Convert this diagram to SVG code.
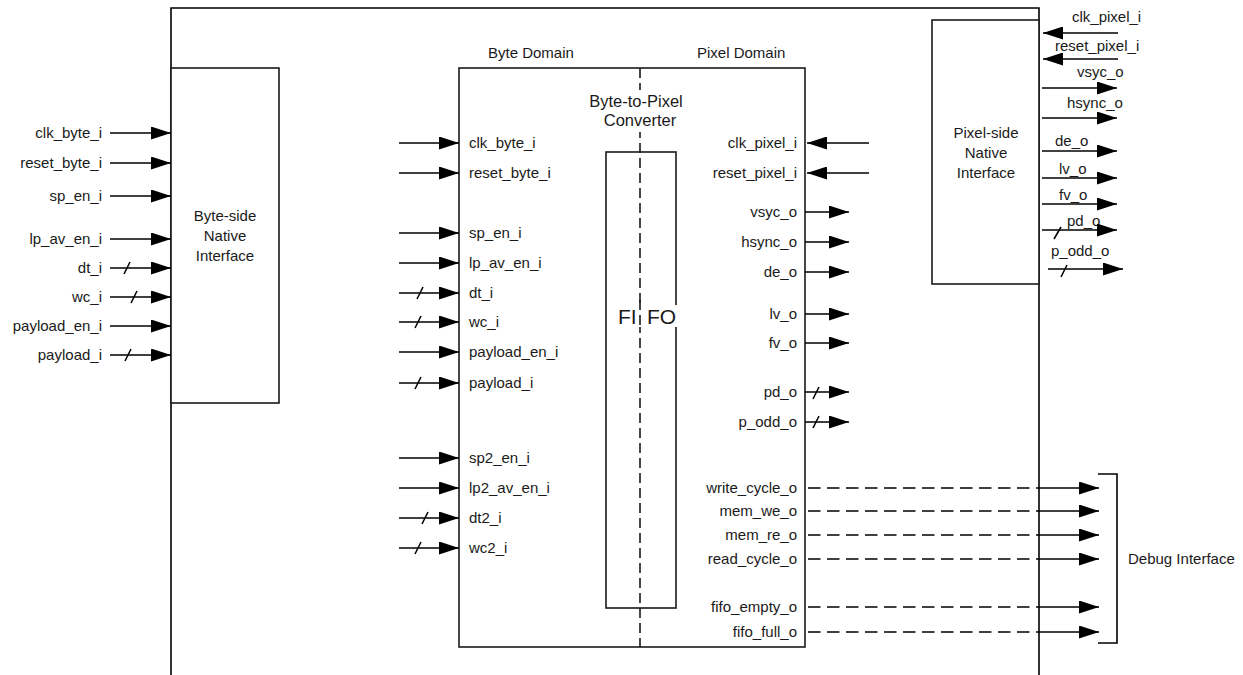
<svg xmlns="http://www.w3.org/2000/svg" width="1243" height="675" viewBox="0 0 1243 675">
<style>
text{font-family:"Liberation Sans",Arial,sans-serif;font-size:15px;fill:#1a1a1a}
.box{fill:#fff;stroke:#1a1a1a;stroke-width:1.6}
.ln{stroke:#000;stroke-width:1.6;fill:none}
.dash{stroke:#000;stroke-width:1.6;fill:none;stroke-dasharray:12.5 6.5}
.vd{stroke:#1a1a1a;stroke-width:1.6;fill:none;stroke-dasharray:10 5}
.a{marker-end:url(#arr)}
.r{text-anchor:end}
.m{text-anchor:middle}
.title{font-size:16.5px}
.fifo{font-size:21px}
</style>
<defs>
<marker id="arr" viewBox="0 0 20 13" refX="20" refY="6.5" markerWidth="20" markerHeight="13" markerUnits="userSpaceOnUse" orient="auto">
<path d="M0,0 L20,6.5 L0,13 z" fill="#000"/>
</marker>
</defs>

<g id="outer">
<path class="ln" d="M171,675 V8 H1039 V675"/>
</g>

<g id="byte-side">
<rect class="box" x="171" y="68" width="108" height="335"/>
<text class="m" x="225" y="221">Byte-side</text>
<text class="m" x="225" y="241">Native</text>
<text class="m" x="225" y="261">Interface</text>
</g>

<g id="pixel-side">
<rect class="box" x="932" y="20" width="107" height="264"/>
<text class="m" x="986" y="138">Pixel-side</text>
<text class="m" x="986" y="158">Native</text>
<text class="m" x="986" y="178">Interface</text>
</g>

<g id="converter">
<rect class="box" x="459" y="68" width="346" height="579"/>
<rect class="box" x="606" y="152" width="70" height="456"/>
<line class="vd" x1="640" y1="68" x2="640" y2="647"/>
<text x="488" y="58">Byte Domain</text>
<text x="697" y="58">Pixel Domain</text>
<rect x="582" y="90" width="106" height="42" fill="#fff"/>
<text class="m title" x="636" y="107">Byte-to-Pixel</text>
<text class="m title" x="640" y="126">Converter</text>
<rect x="616" y="305" width="62" height="22" fill="#fff"/>
<text x="618" y="324" class="fifo">FI</text>
<text x="647" y="324" class="fifo">FO</text>
<line class="vd" x1="640" y1="300" x2="640" y2="330"/>

<text x="469" y="148">clk_byte_i</text>
<text x="469" y="178">reset_byte_i</text>
<text x="469" y="238">sp_en_i</text>
<text x="469" y="268">lp_av_en_i</text>
<text x="469" y="298">dt_i</text>
<text x="469" y="327">wc_i</text>
<text x="469" y="357">payload_en_i</text>
<text x="469" y="388">payload_i</text>
<text x="469" y="463">sp2_en_i</text>
<text x="469" y="493">lp2_av_en_i</text>
<text x="469" y="523">dt2_i</text>
<text x="469" y="553">wc2_i</text>

<text class="r" x="797" y="148">clk_pixel_i</text>
<text class="r" x="797" y="178">reset_pixel_i</text>
<text class="r" x="797" y="217">vsyc_o</text>
<text class="r" x="797" y="247">hsync_o</text>
<text class="r" x="797" y="277">de_o</text>
<text class="r" x="797" y="319">lv_o</text>
<text class="r" x="797" y="348">fv_o</text>
<text class="r" x="797" y="397">pd_o</text>
<text class="r" x="797" y="427">p_odd_o</text>
<text class="r" x="797" y="493">write_cycle_o</text>
<text class="r" x="797" y="516">mem_we_o</text>
<text class="r" x="797" y="540">mem_re_o</text>
<text class="r" x="797" y="564">read_cycle_o</text>
<text class="r" x="797" y="612">fifo_empty_o</text>
<text class="r" x="797" y="637">fifo_full_o</text>
</g>

<g id="debug-interface">
<path class="ln" d="M1098,474 H1117 V643 H1098"/>
<text x="1128" y="564">Debug Interface</text>
</g>

<g id="left-labels">
<text class="r" x="102" y="138">clk_byte_i</text>
<text class="r" x="102" y="168">reset_byte_i</text>
<text class="r" x="102" y="201">sp_en_i</text>
<text class="r" x="102" y="244">lp_av_en_i</text>
<text class="r" x="102" y="273">dt_i</text>
<text class="r" x="102" y="302">wc_i</text>
<text class="r" x="102" y="331">payload_en_i</text>
<text class="r" x="102" y="360">payload_i</text>
</g>

<g id="right-labels">
<text x="1072" y="22">clk_pixel_i</text>
<text x="1055" y="51">reset_pixel_i</text>
<text x="1077" y="77">vsyc_o</text>
<text x="1067" y="108">hsync_o</text>
<text x="1055" y="146">de_o</text>
<text x="1059" y="174">lv_o</text>
<text x="1059" y="200">fv_o</text>
<text x="1067" y="226">pd_o</text>
<text x="1051" y="256">p_odd_o</text>
</g>

<g id="connectors">
<!-- byte-side inputs -->
<line class="ln a" x1="110" y1="133" x2="171" y2="133"/>
<line class="ln a" x1="110" y1="163" x2="171" y2="163"/>
<line class="ln a" x1="110" y1="196" x2="171" y2="196"/>
<line class="ln a" x1="110" y1="239" x2="171" y2="239"/>
<line class="ln a" x1="110" y1="268" x2="171" y2="268"/>
<line class="ln a" x1="110" y1="297" x2="171" y2="297"/>
<line class="ln a" x1="110" y1="326" x2="171" y2="326"/>
<line class="ln a" x1="110" y1="355" x2="171" y2="355"/>
<line class="ln" x1="124" y1="274" x2="130" y2="262"/>
<line class="ln" x1="131" y1="303" x2="137" y2="291"/>
<line class="ln" x1="125" y1="361" x2="131" y2="349"/>

<!-- converter inputs -->
<line class="ln a" x1="399" y1="143" x2="459" y2="143"/>
<line class="ln a" x1="399" y1="173" x2="459" y2="173"/>
<line class="ln a" x1="399" y1="233" x2="459" y2="233"/>
<line class="ln a" x1="399" y1="263" x2="459" y2="263"/>
<line class="ln a" x1="399" y1="293" x2="459" y2="293"/>
<line class="ln a" x1="399" y1="322" x2="459" y2="322"/>
<line class="ln a" x1="399" y1="352" x2="459" y2="352"/>
<line class="ln a" x1="399" y1="383" x2="459" y2="383"/>
<line class="ln a" x1="399" y1="458" x2="459" y2="458"/>
<line class="ln a" x1="399" y1="488" x2="459" y2="488"/>
<line class="ln a" x1="399" y1="518" x2="459" y2="518"/>
<line class="ln a" x1="399" y1="548" x2="459" y2="548"/>
<line class="ln" x1="417" y1="299" x2="423" y2="287"/>
<line class="ln" x1="415" y1="328" x2="421" y2="316"/>
<line class="ln" x1="415" y1="389" x2="421" y2="377"/>
<line class="ln" x1="422" y1="524" x2="428" y2="512"/>
<line class="ln" x1="415" y1="554" x2="421" y2="542"/>

<!-- converter pixel inputs -->
<line class="ln a" x1="869" y1="143" x2="807" y2="143"/>
<line class="ln a" x1="869" y1="173" x2="807" y2="173"/>

<!-- converter outputs -->
<line class="ln a" x1="805" y1="212" x2="849" y2="212"/>
<line class="ln a" x1="805" y1="242" x2="849" y2="242"/>
<line class="ln a" x1="805" y1="272" x2="849" y2="272"/>
<line class="ln a" x1="805" y1="314" x2="849" y2="314"/>
<line class="ln a" x1="805" y1="343" x2="849" y2="343"/>
<line class="ln a" x1="805" y1="392" x2="849" y2="392"/>
<line class="ln a" x1="805" y1="422" x2="849" y2="422"/>
<line class="ln" x1="813" y1="399" x2="819" y2="387"/>
<line class="ln" x1="813" y1="428" x2="819" y2="416"/>

<!-- debug outputs -->
<line class="dash" x1="808" y1="488" x2="1039" y2="488"/>
<line class="dash" x1="808" y1="511" x2="1039" y2="511"/>
<line class="dash" x1="808" y1="535" x2="1039" y2="535"/>
<line class="dash" x1="808" y1="559" x2="1039" y2="559"/>
<line class="dash" x1="808" y1="607" x2="1039" y2="607"/>
<line class="dash" x1="808" y1="632" x2="1039" y2="632"/>
<line class="ln a" x1="1039" y1="488" x2="1099" y2="488"/>
<line class="ln a" x1="1039" y1="511" x2="1099" y2="511"/>
<line class="ln a" x1="1039" y1="535" x2="1099" y2="535"/>
<line class="ln a" x1="1039" y1="559" x2="1099" y2="559"/>
<line class="ln a" x1="1039" y1="607" x2="1099" y2="607"/>
<line class="ln a" x1="1039" y1="632" x2="1099" y2="632"/>

<!-- pixel-side ports -->
<line class="ln a" x1="1118" y1="33" x2="1043" y2="33"/>
<line class="ln a" x1="1118" y1="59" x2="1043" y2="59"/>
<line class="ln a" x1="1042" y1="88" x2="1117" y2="88"/>
<line class="ln a" x1="1042" y1="118" x2="1117" y2="118"/>
<line class="ln a" x1="1042" y1="151" x2="1117" y2="151"/>
<line class="ln a" x1="1042" y1="178" x2="1117" y2="178"/>
<line class="ln a" x1="1042" y1="204" x2="1117" y2="204"/>
<line class="ln a" x1="1042" y1="230" x2="1117" y2="230"/>
<line class="ln a" x1="1048" y1="269" x2="1123" y2="269"/>
<line class="ln" x1="1054" y1="239" x2="1061" y2="227"/>
<line class="ln" x1="1061" y1="277" x2="1067" y2="265"/>
</g>
</svg>
